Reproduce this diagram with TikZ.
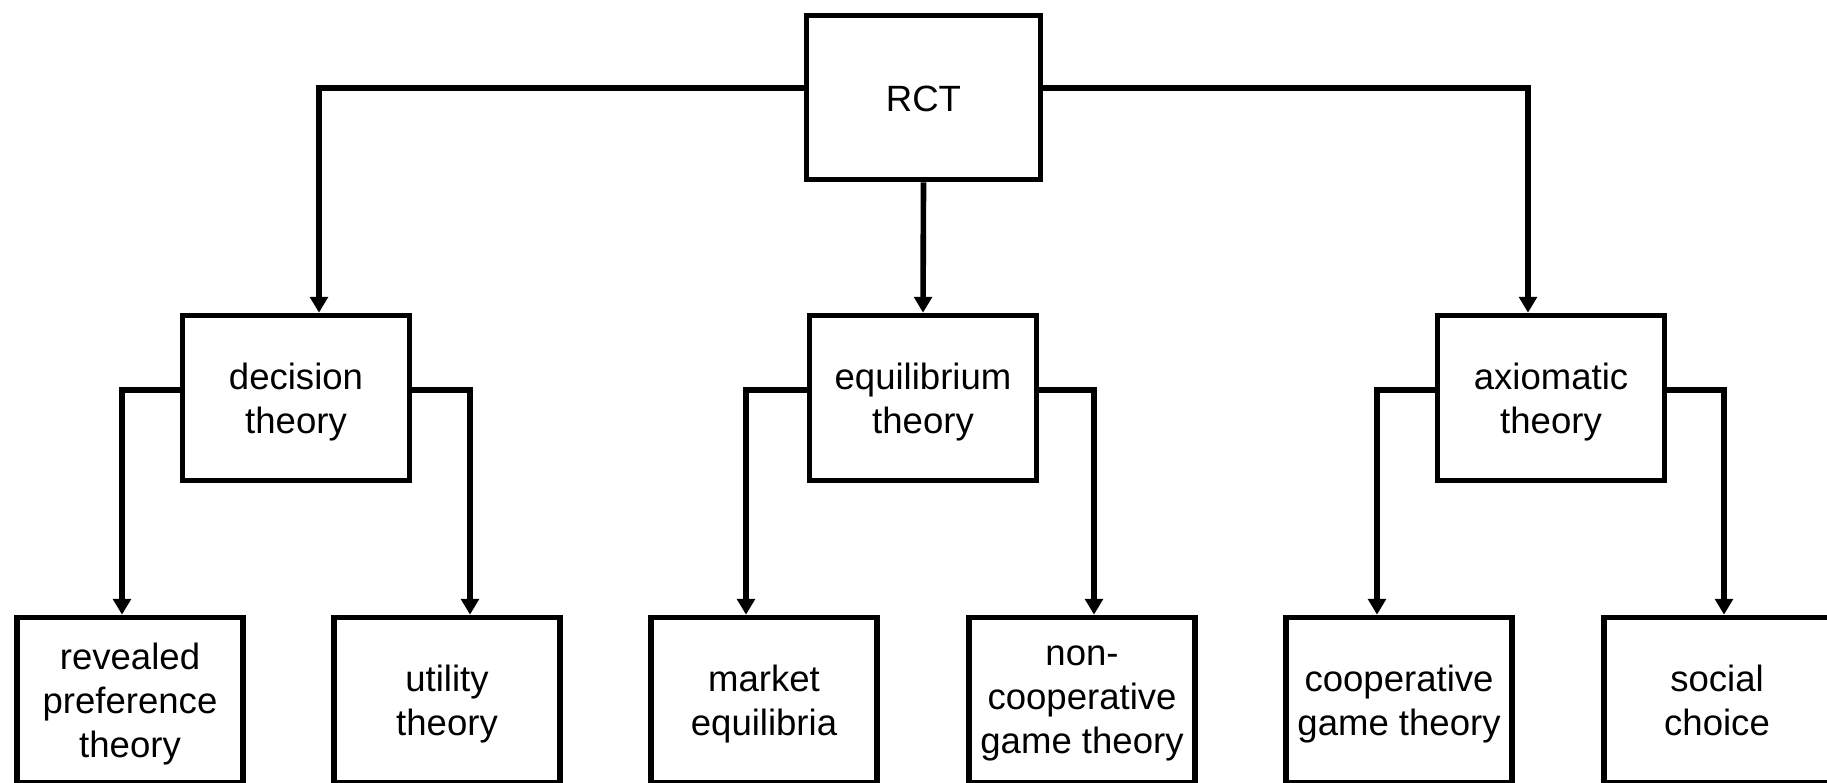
\documentclass[tikz,border=0pt]{standalone}
\usepackage{fontspec}
\setmainfont{Liberation Sans}
\usetikzlibrary{arrows.meta}

\begin{document}
\begin{tikzpicture}
  \useasboundingbox (0, 0) rectangle (18.27, -7.82);
  \clip (0, 0) rectangle (18.27, -7.82);  % untere Kaesten sind abgeschnitten
  \tikzstyle{box}=[rectangle, draw, line width=1.6pt, align=center, inner sep=1pt,
    minimum width=2.27cm, minimum height=1.65cm, text depth=0pt,
    execute at begin node={\rule{0pt}{8pt}},
    font=\fontsize{10.4}{12.5}\selectfont]
  \tikzstyle{leaf}=[box, minimum width=2.26cm]
  \tikzstyle{link}=[line width=1.6pt, -{Triangle[width=5pt, length=4.5pt]}]

  \node[box, minimum width=2.34cm, minimum height=1.64cm] (rct) at (9.235, -0.975) {RCT};

  \node[box] (dec) at (2.96,  -3.98) {decision\\theory};
  \node[box] (equ) at (9.23,  -3.98) {equilibrium\\theory};
  \node[box] (axi) at (15.51, -3.98) {axiomatic\\theory};

  \node[leaf] (rev) at (1.30,  -7.00) {revealed\\preference\\theory};
  \node[leaf] (uti) at (4.47,  -7.00) {utility\\theory};
  \node[leaf] (mar) at (7.64,  -7.00) {market\\equilibria};
  \node[leaf] (non) at (10.82, -7.00) {non-\\cooperative\\game theory};
  \node[leaf] (coo) at (13.99, -7.00) {cooperative\\game theory};
  \node[leaf] (soc) at (17.17, -7.00) {social\\choice};

  \draw[link] ([yshift=.095cm]rct.west) -| ([xshift=.23cm]dec.north);
  \draw[link] (rct.south) -- (equ.north);
  \draw[link] ([yshift=.095cm]rct.east) -| ([xshift=-.23cm]axi.north);

  \draw[link] ([yshift=.08cm]dec.west) -| ([xshift=-.08cm]rev.north);
  \draw[link] ([yshift=.08cm]dec.east) -| ([xshift=.23cm]uti.north);
  \draw[link] ([yshift=.08cm]equ.west) -| ([xshift=-.18cm]mar.north);
  \draw[link] ([yshift=.08cm]equ.east) -| ([xshift=.12cm]non.north);
  \draw[link] ([yshift=.08cm]axi.west) -| ([xshift=-.22cm]coo.north);
  \draw[link] ([yshift=.08cm]axi.east) -| ([xshift=.07cm]soc.north);
\end{tikzpicture}
\end{document}
